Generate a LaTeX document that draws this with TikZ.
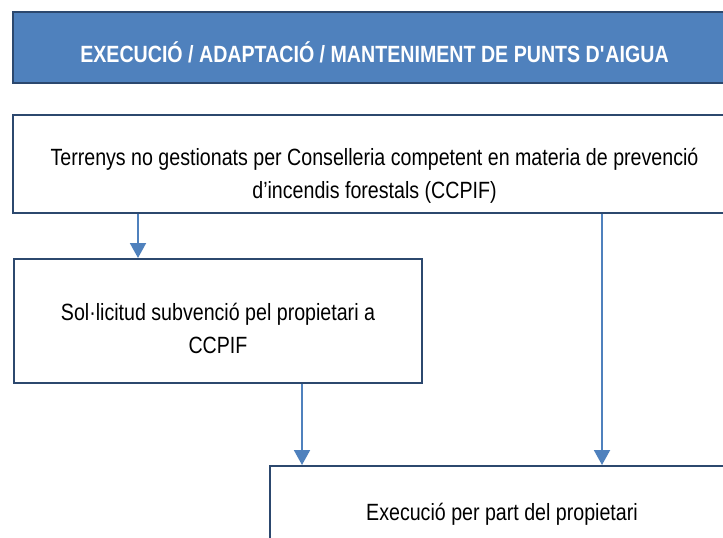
\documentclass[tikz,border=0pt]{standalone}
\usepackage{fontspec}
\setmainfont{Liberation Sans}[FakeStretch=0.835]
\usetikzlibrary{arrows.meta,positioning}
\definecolor{titleblue}{HTML}{4F81BD}
\definecolor{boxline}{HTML}{2C486E}
\definecolor{arrowblue}{HTML}{4F81BD}
\tikzset{
  box/.style={draw=boxline, line width=2pt, inner sep=0pt, fill=white},
  txt/.style={align=center, inner sep=0pt, font=\fontsize{23.5}{33.5}\selectfont},
  arr/.style={draw=arrowblue, line width=2pt, -{Triangle[width=16pt,length=15pt]}}
}
\begin{document}
\begin{tikzpicture}[x=1pt,y=-1pt]
  \useasboundingbox (0,0) rectangle (723,538);
  \clip (0,0) rectangle (723,538);
  % boxes
  \node[box, fill=titleblue, minimum width=723, minimum height=71] (title) at (374.5,47.5) {};
  \node[box, minimum width=723, minimum height=98] (terrenys) at (374.5,164) {};
  \node[box, minimum width=408, minimum height=124] (solicitud) at (218,321) {};
  \node[box, minimum width=464, minimum height=114] (execucio) at (502,523) {};
  % texts
  \node[txt, anchor=base, text=white, font=\fontsize{23.5}{33.5}\selectfont\bfseries] (titletext) at (374.5,62)
    {EXECUCIÓ / ADAPTACIÓ / MANTENIMENT DE PUNTS D\textquotesingle AIGUA};
  \node[txt] (terrenystext) at (374.5,176)
    {Terrenys no gestionats per Conselleria competent en materia de prevenció\\d’incendis forestals (CCPIF)};
  \node[txt] (solicitudtext) at (218,328.5)
    {Sol·licitud subvenció pel propietari a\\CCPIF};
  \node[txt, anchor=base] (execuciotext) at (502,520) {Execució per part del propietari};
  % arrows
  \draw[arr] (138,0 |- terrenys.south) -- (138,0 |- solicitud.north);
  \draw[arr] (302,0 |- solicitud.south) -- (302,0 |- execucio.north);
  \draw[arr] (602,0 |- terrenys.south) -- (602,0 |- execucio.north);
\end{tikzpicture}
\end{document}
